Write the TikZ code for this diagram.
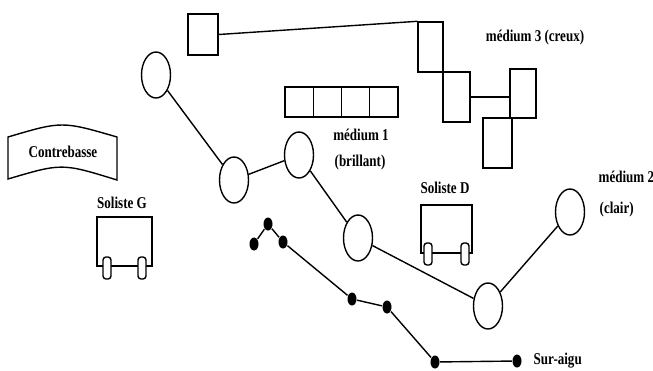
\documentclass[tikz,border=0pt]{standalone}
\usepackage{fontspec}
\setmainfont{Liberation Serif}
\usepackage{graphicx}
\usepackage{tikz}
\usetikzlibrary{shapes.geometric}

\newcommand{\narrow}[1]{\scalebox{0.79}[1]{#1}}

\tikzset{
  voice/.style={draw, ellipse, minimum width=29pt, minimum height=46pt, inner sep=0pt},
  cell/.style={draw, rectangle, inner sep=0pt},
  dot/.style={fill, ellipse, minimum width=9pt, minimum height=13pt, inner sep=0pt},
  wheel/.style={draw, fill=white, rounded corners=3pt, minimum width=8pt, minimum height=22pt, inner sep=0pt},
  lbl/.style={font=\fontsize{16.5}{18}\selectfont\bfseries, inner sep=0pt},
}

\begin{document}
\begin{tikzpicture}[x=1pt, y=-1pt, line width=1.4pt]
\useasboundingbox (0,0) rectangle (653,370);

% médium 3 (creux)
\node[cell, minimum width=30pt, minimum height=41pt] (sq0) at (203,34.5) {};
\node[cell, minimum width=25pt, minimum height=50pt] (sqA) at (430.5,47) {};
\node[cell, minimum width=27pt, minimum height=50pt] (sqB) at (456.5,97) {};
\node[cell, minimum width=26pt, minimum height=49pt] (sqC) at (523,93.5) {};
\node[cell, minimum width=29pt, minimum height=50pt] (sqD) at (497.5,143) {};
\draw (sq0.east) -- (sqA.north west);
\draw (sqB.east) -- (sqB.east -| sqC.west);

% médium 1 (brillant)
\foreach \i in {0,...,3}
  \node[cell, minimum width=28.25pt, minimum height=30pt] (b\i) at (299.1+28.25*\i,102) {};

% médium 2 (clair)
\node[voice] (c1) at (156,75) {};
\node[voice] (c2) at (234,180) {};
\node[voice] (c3) at (299,155) {};
\node[voice] (c4) at (358,238) {};
\node[voice] (c5) at (488,306) {};
\node[voice] (c6) at (570,212) {};
\draw (c1) -- (c2) -- (c3) -- (c4) -- (c5) -- (c6);

% sur-aigu
\node[dot] (d1) at (254,244) {};
\node[dot] (d2) at (268,224) {};
\node[dot] (d3) at (283,242) {};
\node[dot] (d4) at (352,299) {};
\node[dot] (d5) at (387,307) {};
\node[dot] (d6) at (435,362) {};
\node[dot] (d7) at (517,361) {};
\draw (d1) -- (d2) -- (d3) -- (d4) -- (d5) -- (d6) -- (d7);

% contrebasse
\draw (8,137) .. controls (62,121) .. (117,137) -- (117,180)
  .. controls (62,163) .. (8,179) -- cycle;

% solistes
\draw (97,217) rectangle (152,266);
\node[wheel] (gw1) at (107,268) {};
\node[wheel] (gw2) at (142,268) {};
\draw (421,205) rectangle (472,253);
\node[wheel] (dw1) at (428,254) {};
\node[wheel] (dw2) at (465,254) {};

\node[lbl] (cb) at (63,152) {\narrow{Contrebasse}};
\node[lbl] (solg) at (122,203) {\narrow{Soliste G}};
\node[lbl] (sold) at (445,188) {\narrow{Soliste D}};
\node[lbl] (m1) at (361,135) {\narrow{médium 1}};
\node[lbl] (m1b) at (360,163) {\narrow{(brillant)}};
\node[lbl] (m3) at (535,38) {\narrow{médium 3 (creux)}};
\node[lbl, anchor=west] (m2) at (598,177) {\narrow{médium 2}};
\node[lbl, anchor=west] (m2b) at (599,210) {\narrow{(clair)}};
\node[lbl, anchor=west] (sa) at (533,361) {\narrow{Sur-aigu}};
\end{tikzpicture}
\end{document}
